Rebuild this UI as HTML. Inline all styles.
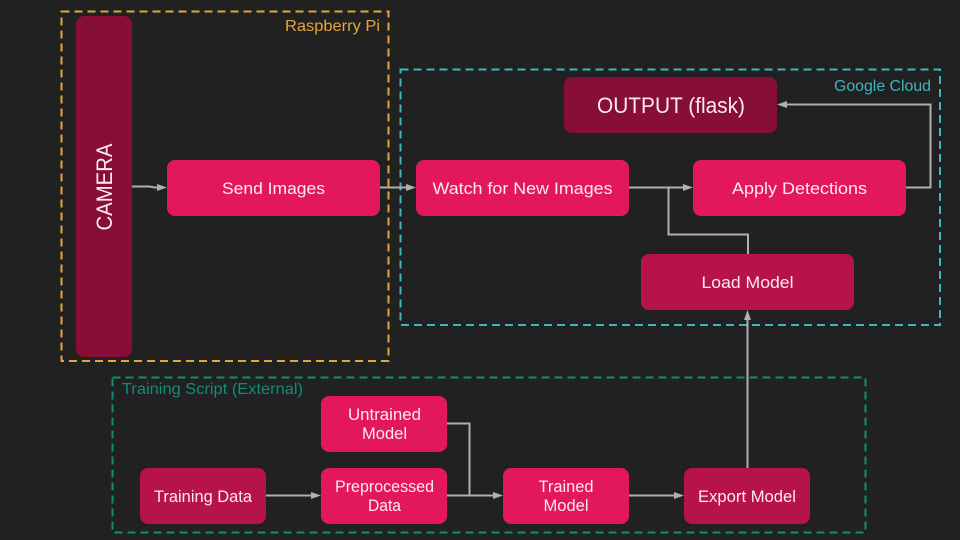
<!DOCTYPE html>
<html>
<head>
<meta charset="utf-8">
<style>
html,body{margin:0;padding:0;background:#212121;width:960px;height:540px;overflow:hidden}
svg{display:block}
text{font-family:"Liberation Sans",sans-serif}
.n{fill:#fdeaf1;font-size:17px;text-anchor:middle}
.l{fill:none;stroke:#b0b0b0;stroke-width:2}
.a{fill:#b0b0b0}
</style>
</head>
<body>
<svg width="960" height="540" viewBox="0 0 960 540" xmlns="http://www.w3.org/2000/svg">
<rect width="960" height="540" fill="#212121"/>

<rect x="61.500" y="11.500" width="327" height="349.500" fill="none" stroke="#e8a33d" stroke-width="2" stroke-dasharray="8 5"/>
<rect x="400.500" y="69.500" width="539.500" height="255.500" fill="none" stroke="#3fb5bd" stroke-width="2" stroke-dasharray="8 5"/>
<rect x="112.500" y="377.500" width="753" height="155" fill="none" stroke="#0f8d78" stroke-width="2" stroke-dasharray="8 5"/>

<text x="285" y="31" font-size="16" fill="#e8a33d" textLength="95" lengthAdjust="spacingAndGlyphs">Raspberry Pi</text>
<text x="834" y="91" font-size="16" fill="#3fb5bd" textLength="97" lengthAdjust="spacingAndGlyphs">Google Cloud</text>
<text x="122" y="394" font-size="16" fill="#0f8d78" textLength="181" lengthAdjust="spacingAndGlyphs">Training Script (External)</text>

<rect x="76" y="16" width="56" height="341" rx="8" fill="#870e36"/>
<rect x="167" y="160" width="213" height="56" rx="8" fill="#e2185b"/>
<rect x="416" y="160" width="213" height="56" rx="8" fill="#e2185b"/>
<rect x="693" y="160" width="213" height="56" rx="8" fill="#e2185b"/>
<rect x="564" y="77" width="213" height="56" rx="8" fill="#870e36"/>
<rect x="641" y="254" width="213" height="56" rx="8" fill="#b5134a"/>
<rect x="140" y="468" width="126" height="56" rx="8" fill="#b5134a"/>
<rect x="321" y="468" width="126" height="56" rx="8" fill="#e2185b"/>
<rect x="321" y="396" width="126" height="56" rx="8" fill="#e2185b"/>
<rect x="503" y="468" width="126" height="56" rx="8" fill="#e2185b"/>
<rect x="684" y="468" width="126" height="56" rx="8" fill="#b5134a"/>

<path class="l" d="M132 186.500H149L155 187.500H160"/>
<path class="a" d="M167 187.500L157 184V191Z"/>
<path class="l" d="M380 187.500H409"/>
<path class="a" d="M416 187.500L406 184V191Z"/>
<path class="l" d="M629 187.500H686"/>
<path class="a" d="M693 187.500L683 184V191Z"/>
<path class="l" d="M748 254V234.500H668.500V187.500"/>
<path class="l" d="M906 187.500H930.500V104.500H784"/>
<path class="a" d="M777 104.500L787 101V108Z"/>
<path class="l" d="M747.500 468V317"/>
<path class="a" d="M747.500 310L744 320H751Z"/>
<path class="l" d="M266 495.500H314"/>
<path class="a" d="M321 495.500L311 492V499Z"/>
<path class="l" d="M447 495.500H496"/>
<path class="a" d="M503 495.500L493 492V499Z"/>
<path class="l" d="M447 423.500H469.500V495.500"/>
<path class="l" d="M629 495.500H677"/>
<path class="a" d="M684 495.500L674 492V499Z"/>

<text class="n" x="273.500" y="194" textLength="103" lengthAdjust="spacingAndGlyphs">Send Images</text>
<text class="n" x="522.500" y="194" textLength="180" lengthAdjust="spacingAndGlyphs">Watch for New Images</text>
<text class="n" x="799.500" y="194" textLength="135" lengthAdjust="spacingAndGlyphs">Apply Detections</text>
<text class="n" x="747.500" y="288" textLength="92" lengthAdjust="spacingAndGlyphs">Load Model</text>
<text class="n" x="671" y="113" style="font-size:22px" textLength="148" lengthAdjust="spacingAndGlyphs">OUTPUT (flask)</text>
<text class="n" transform="translate(112,187) rotate(-90)" style="font-size:22px" textLength="87" lengthAdjust="spacingAndGlyphs">CAMERA</text>
<text class="n" x="203" y="502" textLength="98" lengthAdjust="spacingAndGlyphs">Training Data</text>
<text class="n" x="384.500" y="492" textLength="99" lengthAdjust="spacingAndGlyphs">Preprocessed</text>
<text class="n" x="384.500" y="511" textLength="33" lengthAdjust="spacingAndGlyphs">Data</text>
<text class="n" x="384.500" y="420" textLength="73" lengthAdjust="spacingAndGlyphs">Untrained</text>
<text class="n" x="384.500" y="439" textLength="45" lengthAdjust="spacingAndGlyphs">Model</text>
<text class="n" x="566" y="492" textLength="55" lengthAdjust="spacingAndGlyphs">Trained</text>
<text class="n" x="566" y="511" textLength="45" lengthAdjust="spacingAndGlyphs">Model</text>
<text class="n" x="747" y="502" textLength="98" lengthAdjust="spacingAndGlyphs">Export Model</text>
</svg>
</body>
</html>
